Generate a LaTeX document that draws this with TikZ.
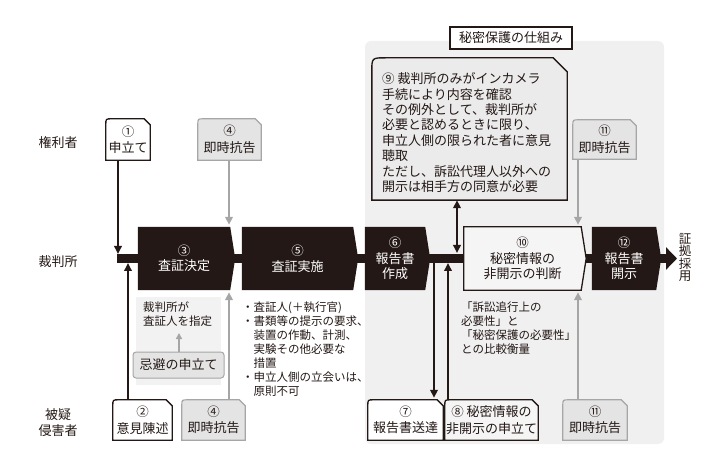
\documentclass[tikz,border=0pt]{standalone}
\usepackage{fontspec}
\setmainfont{Noto Sans CJK JP}
\usetikzlibrary{arrows.meta,calc}
\pgfdeclarelayer{back}
\pgfdeclarelayer{background}
\pgfsetlayers{back,background,main}
\definecolor{ink}{HTML}{231815}
\definecolor{panelgray}{HTML}{F0F0F0}
\definecolor{spgray}{HTML}{F2F2F2}
\definecolor{boxgray}{HTML}{E4E4E4}
\definecolor{linegray}{HTML}{A6A6A6}
\definecolor{dotfill}{HTML}{F5F5F5}
\definecolor{ninefill}{HTML}{EBEBEB}
\newcommand{\cnum}[1]{{\fontsize{12.5}{10}\selectfont #1}}
\newcommand{\chpath}[2]{(#1.south west) -- ([yshift=-#2]#1.north west) .. controls (#1.north west) .. ([xshift=#2]#1.north west) -- ([xshift=-#2]#1.north east) -- ([yshift=-#2]#1.north east) -- (#1.south east) -- cycle}
\newcommand{\flowpath}[1]{(#1.north west) -- (#1.north east) -- ([xshift=5pt]#1.east) -- (#1.south east) -- (#1.south west) -- cycle}
\begin{document}
\begin{tikzpicture}[x=1pt,y=-1pt,
  every node/.style={inner sep=0pt, text=ink},
  lab/.style={font=\fontsize{13}{16}\selectfont, align=center},
  flowbox/.style={minimum width=#1, minimum height=63, align=center, font=\fontsize{13}{15.5}\selectfont},
  sbox/.style={minimum width=#1, minimum height=40, align=center, font=\fontsize{13}{16.5}\selectfont},
  note/.style={anchor=north west, align=left, font=\fontsize{11.5}{14}\selectfont},
  darr/.style={draw=ink, line width=1.8pt, -{Triangle[length=8pt,width=7.5pt]}},
  garr/.style={draw=linegray, line width=2pt, -{Triangle[length=8pt,width=7.5pt]}},
  wshape/.style={fill=white, draw=ink, line width=1.3pt},
  gshape/.style={fill=boxgray, draw=linegray, line width=1.2pt},
  dshape/.style={fill=dotfill, draw=ink, line width=1.3pt},
]
\useasboundingbox (0,0) rectangle (709,462);

% row labels
\node[lab] (kenri) at (58,143) {権利者};
\node[lab] (saibansho) at (58,262) {裁判所};
\node[lab] (higi) at (58,423) {被疑\\侵害者};

% small boxes
\node[sbox=44, minimum height=41] (b1) at (128,139.5) {\cnum{①}\\申立て};
\node[sbox=63, minimum height=41] (b4t) at (229.5,139.5) {\cnum{④}\\即時抗告};
\node[sbox=63, minimum height=39] (b11t) at (604.5,139.5) {\cnum{⑪}\\即時抗告};
\node[sbox=59] (b2) at (142.5,420) {\cnum{②}\\意見陳述};
\node[sbox=63] (b4b) at (213.5,420) {\cnum{④}\\即時抗告};
\node[sbox=75] (b7) at (405.5,420) {\cnum{⑦}\\報告書送達};
\node[sbox=93] (b8) at (491.5,420) {\cnum{⑧} 秘密情報の\\非開示の申立て};
\node[sbox=64] (b11b) at (595,420) {\cnum{⑪}\\即時抗告};

% flow boxes
\node[flowbox=92, text=white] (b3) at (184,258.5) {\cnum{③}\\査証決定};
\node[flowbox=111, text=white] (b5) at (297.5,258.5) {\cnum{⑤}\\査証実施};
\node[flowbox=60, text=white] (b6) at (395,258.5) {\cnum{⑥}\\報告書\\作成};
\node[flowbox=117] (b10) at (522.5,258.5) {\cnum{⑩}\\秘密情報の\\非開示の判断};
\node[flowbox=64, text=white] (b12) at (624,258.5) {\cnum{⑫}\\報告書\\開示};

% secret protection panel
\node[lab, minimum width=122, minimum height=22, draw=ink, line width=1.8pt, fill=white] (title) at (511,38) {秘密保護の仕組み};
\node[minimum width=195, minimum height=142] (b9) at (469.5,129) {};
\node[note, font=\fontsize{13}{15.4}\selectfont] (t9) at (382,72.6) {\cnum{⑨} 裁判所のみがインカメラ\\手続により内容を確認\\その例外として、裁判所が\\必要と認めるときに限り、\\申立人側の限られた者に意見\\聴取\\ただし、訴訟代理人以外への\\開示は相手方の同意が必要};

% left notes
\node[minimum width=85, minimum height=88] (sp) at (178.5,341) {};
\node[note] (tsp) at (143,302) {裁判所が\\査証人を指定};
\node[lab, minimum width=91, minimum height=26, rounded corners=3pt, fill=boxgray, draw=linegray, line width=1pt] (kihi) at (178.5,365) {忌避の申立て};

\node[note] (tb) at (242,302) {・査証人(＋執行官)\\・書類等の提示の要求、\\\hspace*{1em}装置の作動、計測、\\\hspace*{1em}実験その他必要な\\\hspace*{1em}措置\\・申立人側の立会いは、\\\hspace*{1em}原則不可};
\node[note] (tc) at (461,302) {「訴訟追行上の\\必要性」と\\「秘密保護の必要性」\\との比較衡量};

\node[font=\fontsize{12.5}{12.5}\selectfont, align=center] (v) at (685,257.5) {証\\拠\\採\\用};

% coordinates on the main bar
\coordinate (barS) at (117,258.5);
\coordinate (barE) at (677,258.5);
\coordinate (j1) at (118,254);
\coordinate (j2) at (128,263);
\coordinate (x4) at (229,0);
\coordinate (j7) at (434,262);
\coordinate (j8) at (448,263);
\coordinate (j9) at (457,253);
\coordinate (x11) at (578,0);
\coordinate (jk) at (179,333);

\begin{pgfonlayer}{back}
  \fill[panelgray, rounded corners=6pt] (365,41) rectangle (664,444);
  \fill[spgray] (sp.north west) rectangle (sp.south east);
\end{pgfonlayer}

\begin{pgfonlayer}{background}
  \draw[ink, line width=9pt, -{Triangle[length=11pt,width=22pt]}] (barS) -- (barE);
  \fill[ink] \flowpath{b3};
  \fill[ink] \flowpath{b5};
  \fill[ink] \flowpath{b6};
  \draw[dshape] \flowpath{b10};
  \fill[ink] \flowpath{b12};
  \draw[wshape] \chpath{b1}{6pt};
  \draw[gshape] \chpath{b4t}{6pt};
  \draw[gshape] \chpath{b11t}{6pt};
  \draw[wshape] \chpath{b2}{6pt};
  \draw[gshape] \chpath{b4b}{6pt};
  \draw[wshape] \chpath{b7}{6pt};
  \draw[dshape] \chpath{b8}{6pt};
  \draw[gshape] \chpath{b11b}{6pt};
  \draw[fill=ninefill, draw=ink, line width=1.4pt] \chpath{b9}{14pt};
\end{pgfonlayer}

% connectors
\draw[darr] (b1.south -| j1) -- (j1);
\draw[darr] (b2.north -| j2) -- (j2);
\draw[garr] (b4t.south -| x4) -- ($(b3.north -| x4)+(0,-2)$);
\draw[garr] (b4b.north -| x4) -- ($(b3.south -| x4)+(0,2)$);
\draw[darr] (j7) -- ($(b7.north -| j7)+(0,-2)$);
\draw[darr] (b8.north -| j8) -- (j8);
\draw[darr, {Triangle[length=8pt,width=7.5pt]}-{Triangle[length=8pt,width=7.5pt]}] (j9) -- (b9.south -| j9);
\draw[garr] (b11t.south -| x11) -- ($(b10.north -| x11)+(0,-2)$);
\draw[garr] (b11b.north -| x11) -- ($(b10.south -| x11)+(0,2)$);
\draw[garr, line width=1.6pt, -{Triangle[length=6pt,width=6pt]}] (kihi.north -| jk) -- (jk);
\end{tikzpicture}
\end{document}
